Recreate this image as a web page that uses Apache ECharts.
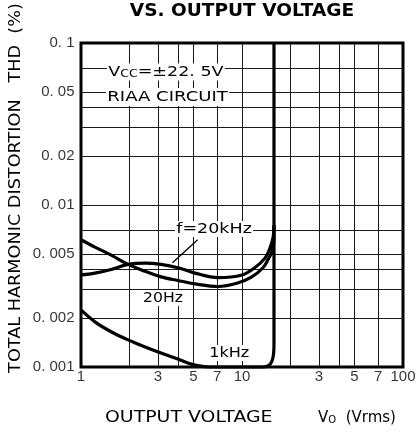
<!DOCTYPE html>
<html><head><meta charset="utf-8">
<script src="https://cdn.jsdelivr.net/npm/echarts@6/dist/echarts.min.js"></script>
<style>html,body{margin:0;padding:0;background:#fff}#c{width:417px;height:443px}</style>
</head><body><div id="c"></div>
<script>
// ---- data ----
const xTickValues = [1, 3, 5, 7, 10, 30, 50, 70, 100];
const xTickLabels = ['1', '3', '5', '7', '10', '3', '5', '7', '100'];
const yTickValues = [0.1, 0.05, 0.02, 0.01, 0.005, 0.002, 0.001];
const yTickLabels = ['0. 1', '0. 05', '0. 02', '0. 01', '0. 005', '0. 002', '0. 001'];
const xGridValues = [2, 3, 4, 5, 7, 10, 20, 30, 40, 50, 70];
const yGridValues = [0.002, 0.003, 0.004, 0.005, 0.007, 0.01, 0.02, 0.03, 0.04, 0.05, 0.07];
const xRange = [1, 100];
const yRange = [0.001, 0.1];

const vo20Hz  = [1, 1.22, 1.54, 1.96, 2.5, 3.14, 4.0, 5.1, 7.1, 9.4, 11.5, 13.5, 14.5, 15.4, 15.8, 15.8];
const thd20Hz = [0.0061, 0.0055, 0.0049, 0.0043, 0.0039, 0.0036, 0.00342, 0.00326, 0.00314, 0.0033, 0.0036, 0.0041, 0.0046, 0.0052, 0.0062, 0.0075];

const vo20kHz  = [1, 1.22, 1.54, 1.96, 2.5, 3.14, 4.0, 5.1, 7.1, 10.0, 12.0, 13.9, 14.9, 15.6, 15.8];
const thd20kHz = [0.0037, 0.0038, 0.0040, 0.0043, 0.00438, 0.0043, 0.0041, 0.0038, 0.00356, 0.0037, 0.0041, 0.0047, 0.0054, 0.0063, 0.0075];

const vo1kHz  = [1, 1.22, 1.54, 1.96, 2.5, 3.14, 4.0, 4.6, 5.3, 6.3, 10, 13.5, 14.6, 15.3, 15.7, 15.8, 15.8];
const thd1kHz = [0.00225, 0.0019, 0.00165, 0.00147, 0.00133, 0.00122, 0.00112, 0.00106, 0.00102, 0.001, 0.001, 0.001, 0.00102, 0.00108, 0.0012, 0.0014, 0.1];

const pointerLine = [[5.3, 0.0061], [3.7, 0.0044]];

// ---- chart ----
const pair = (xs, ys) => xs.map((x, i) => [x, ys[i]]);
const chart = echarts.init(document.getElementById('c'), null, {renderer: 'canvas'});
const curveStyle = {color: '#000', width: 3.2};
const curve = (name, data) => ({
  name, type: 'line', data, symbol: 'none', showSymbol: false, smooth: 0.35,
  clip: false, lineStyle: curveStyle, z: 5, silent: true
});
const sans = 'Liberation Sans';
const dv = 'DejaVu Sans';

const gridLines = xGridValues.map(v => [{coord: [v, yRange[0]]}, {coord: [v, yRange[1]]}])
  .concat(yGridValues.map(v => [{coord: [xRange[0], v]}, {coord: [xRange[1], v]}]));

chart.setOption({
  animation: false,
  grid: {left: 81, right: 14, top: 43, bottom: 76, show: true, borderColor: '#000', borderWidth: 3},
  xAxis: {type: 'log', logBase: 10, min: xRange[0], max: xRange[1],
    axisLine: {show: false}, axisTick: {show: false}, axisLabel: {show: false}, splitLine: {show: false}},
  yAxis: {type: 'log', logBase: 10, min: yRange[0], max: yRange[1],
    axisLine: {show: false}, axisTick: {show: false}, axisLabel: {show: false}, splitLine: {show: false}},
  series: [
    {
      type: 'line', data: [[1, 0.001]], symbol: 'none', lineStyle: {width: 0}, z: 1, silent: true,
      markLine: {
        silent: true, symbol: ['none', 'none'], label: {show: false}, animation: false,
        lineStyle: {color: '#1a1a1a', width: 1, type: 'solid'},
        emphasis: {disabled: true},
        data: gridLines
      }
    },
    curve('20Hz', pair(vo20Hz, thd20Hz)),
    curve('20kHz', pair(vo20kHz, thd20kHz)),
    curve('1kHz', pair(vo1kHz, thd1kHz)),
    {type: 'line', data: pointerLine, symbol: 'none', lineStyle: {color: '#000', width: 1.3}, z: 6, silent: true},
    {
      type: 'scatter', data: xTickValues.map(v => [v, 0.001]), symbolSize: 1, clip: false,
      itemStyle: {color: 'rgba(0,0,0,0)'}, silent: true,
      label: {show: true, position: 'bottom', distance: 2, fontFamily: sans, fontSize: 15, color: '#000',
        formatter: p => xTickLabels[p.dataIndex]}
    },
    {
      type: 'scatter', data: yTickValues.map(v => [1, v]), symbolSize: 1, clip: false,
      itemStyle: {color: 'rgba(0,0,0,0)'}, silent: true,
      label: {show: true, position: 'left', distance: 6, fontFamily: sans, fontSize: 15, color: '#000',
        formatter: p => yTickLabels[p.dataIndex]}
    }
  ],
  graphic: [
    {type: 'text', x: 242, y: 11, scaleX: 1.03, z: 100,
      style: {text: 'VS. OUTPUT VOLTAGE', fontFamily: dv, fontWeight: 'bold', fontSize: 18, fill: '#000', align: 'center', verticalAlign: 'middle'}},
    {type: 'text', x: 16, y: 188, rotation: Math.PI / 2, scaleX: 1.07, z: 100,
      style: {text: 'TOTAL HARMONIC DISTORTION   THD  (%)', fontFamily: dv, fontSize: 16.5, fill: '#000', align: 'center', verticalAlign: 'middle'}},
    {type: 'text', x: 105, y: 418, scaleX: 1.18, z: 100,
      style: {text: 'OUTPUT VOLTAGE', fontFamily: dv, fontSize: 16, fill: '#000', align: 'left', verticalAlign: 'middle'}},
    {type: 'text', x: 318, y: 418, z: 100,
      style: {text: 'V{s|O}  (Vrms)', fontFamily: dv, fontSize: 15, fill: '#000', align: 'left', verticalAlign: 'middle',
        rich: {s: {fontFamily: dv, fontSize: 10, verticalAlign: 'bottom', fill: '#000'}}}},
    {type: 'text', x: 107, y: 72, scaleX: 1.25, z: 100,
      style: {text: 'V{s|CC}=±22. 5V', fontFamily: dv, fontSize: 14, fill: '#000', align: 'left', verticalAlign: 'middle',
        backgroundColor: '#fff', padding: [2, 1, 1, 1],
        rich: {s: {fontFamily: dv, fontSize: 10, verticalAlign: 'bottom', fill: '#000'}}}},
    {type: 'text', x: 106, y: 97, scaleX: 1.29, z: 100,
      style: {text: 'RIAA CIRCUIT', fontFamily: dv, fontSize: 14, fill: '#000', align: 'left', verticalAlign: 'middle',
        backgroundColor: '#fff', padding: [2, 1, 2, 1]}},
    {type: 'text', x: 175, y: 229, scaleX: 1.25, z: 100,
      style: {text: 'f=20kHz', fontFamily: dv, fontSize: 14, fill: '#000', align: 'left', verticalAlign: 'middle',
        backgroundColor: '#fff', padding: [1, 1, 1, 1]}},
    {type: 'text', x: 142, y: 298, scaleX: 1.12, z: 100,
      style: {text: '20Hz', fontFamily: dv, fontSize: 14, fill: '#000', align: 'left', verticalAlign: 'middle',
        backgroundColor: '#fff', padding: [1, 1, 1, 1]}},
    {type: 'text', x: 208, y: 353, scaleX: 1.15, z: 100,
      style: {text: '1kHz', fontFamily: dv, fontSize: 14, fill: '#000', align: 'left', verticalAlign: 'middle',
        backgroundColor: '#fff', padding: [1, 1, 1, 1]}}
  ]
});
</script>
</body></html>
